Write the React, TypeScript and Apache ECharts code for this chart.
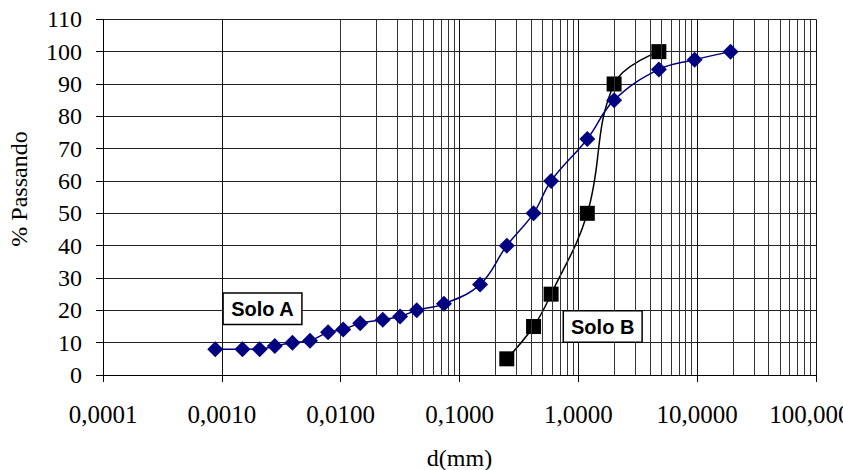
import React, { useEffect, useRef } from "react";
import * as echarts from "echarts";

const xTickLabels = ["0,0001", "0,0010", "0,0100", "0,1000", "1,0000", "10,0000", "100,0000"];
const yTicks = [0, 10, 20, 30, 40, 50, 60, 70, 80, 90, 100, 110];

const soloASizes = [0.00088, 0.00149, 0.00208, 0.00279, 0.00393, 0.00552, 0.00783, 0.0105, 0.0146, 0.0226, 0.0316, 0.0437, 0.074, 0.149, 0.25, 0.42, 0.59, 1.19, 2.0, 4.76, 9.52, 19.1];
const soloAPassing = [8, 8, 8, 9, 10, 10.6, 13.2, 14.1, 16, 17.1, 18.1, 20, 22, 28, 40, 50, 60, 73, 85, 94.5, 97.5, 100];

const soloBSizes = [0.25, 0.42, 0.59, 1.19, 2.0, 4.76];
const soloBPassing = [5, 15, 25, 50, 90, 100];

const minorMultipliers = [2, 3, 4, 5, 6, 7, 8, 9];
const decadeExponents = [-4, -3, -2, -1, 0, 1];

const SERIF = "'Liberation Serif', 'Times New Roman', serif";
const SANS = "'Liberation Sans', Arial, sans-serif";

export default function App() {
  const ref = useRef<HTMLDivElement>(null);
  useEffect(() => {
    if (!ref.current) return;
    const chart = echarts.init(ref.current, null, { renderer: "svg" });
    const minorLines: any[] = [];
    decadeExponents.forEach((e) => {
      minorMultipliers.forEach((m) => {
        minorLines.push({ xAxis: m * Math.pow(10, e) });
      });
    });
    const boxStyle = {
      fontFamily: SANS,
      fontWeight: "bold",
      fontSize: 20,
      fill: "#000",
      align: "center",
      verticalAlign: "middle",
      backgroundColor: "#fff",
      borderColor: "#000",
      borderWidth: 1.5,
      padding: [5, 7, 5, 7],
      lineHeight: 20,
    };
    chart.setOption({
      animation: false,
      backgroundColor: "#fff",
      grid: { left: 103, right: 27, top: 19.3, bottom: 95, containLabel: false, outerBoundsMode: "none" },
      xAxis: {
        type: "log",
        logBase: 10,
        min: 0.0001,
        max: 100,
        splitNumber: 6,
        name: "d(mm)",
        nameLocation: "middle",
        nameGap: 71,
        nameTextStyle: { fontFamily: SERIF, fontSize: 24, color: "#000" },
        axisLine: { show: true, lineStyle: { color: "#000", width: 1 } },
        axisTick: { show: true, length: 7, lineStyle: { color: "#000" } },
        axisLabel: {
          fontFamily: SERIF,
          fontSize: 25,
          color: "#000",
          margin: 27,
          formatter: (v: number) => xTickLabels[Math.round(Math.log10(v)) + 4] ?? "",
        },
        splitLine: { show: true, lineStyle: { color: "#111", width: 1 } },
      },
      yAxis: {
        type: "value",
        min: 0,
        max: 110,
        interval: 10,
        axisLine: { show: true, lineStyle: { color: "#000", width: 1 } },
        axisTick: { show: true, length: 7, lineStyle: { color: "#000" } },
        axisLabel: {
          fontFamily: SERIF,
          fontSize: 24,
          color: "#000",
          margin: 21,
          formatter: (v: number) => (yTicks.indexOf(v) >= 0 ? String(v) : ""),
        },
        splitLine: { show: true, lineStyle: { color: "#222", width: 1 } },
      },
      series: [
        {
          type: "line",
          name: "grid",
          data: [],
          silent: true,
          z: 1,
          markLine: {
            silent: true,
            symbol: "none",
            animation: false,
            label: { show: false },
            lineStyle: { color: "#333", width: 1, type: "solid" },
            emphasis: { disabled: true },
            data: minorLines,
          },
        },
        {
          type: "line",
          name: "Solo A",
          data: soloASizes.map((s, i) => [s, soloAPassing[i]]),
          smooth: 0.4,
          symbol: "diamond",
          symbolSize: 16,
          z: 5,
          lineStyle: { color: "#000080", width: 1.5 },
          itemStyle: { color: "#000080" },
        },
        {
          type: "line",
          name: "Solo B",
          data: soloBSizes.map((s, i) => [s, soloBPassing[i]]),
          smooth: 0.4,
          symbol: "rect",
          symbolSize: 15,
          z: 4,
          lineStyle: { color: "#000", width: 1.5 },
          itemStyle: { color: "#000" },
        },
      ],
      graphic: [
        {
          type: "text",
          x: 19,
          y: 189,
          rotation: Math.PI / 2,
          style: {
            text: "% Passando",
            fontFamily: SERIF,
            fontSize: 24,
            fill: "#000",
            align: "center",
            verticalAlign: "middle",
          },
        },
        { type: "text", x: 262.5, y: 308.7, z: 100, style: { ...boxStyle, text: "Solo A" } },
        { type: "text", x: 602.7, y: 326.5, z: 100, style: { ...boxStyle, text: "Solo B" } },
      ],
    });
    return () => chart.dispose();
  }, []);
  return (
    <div
      ref={ref}
      style={{ position: "fixed", left: 0, top: 0, width: 843, height: 470 }}
    />
  );
}
